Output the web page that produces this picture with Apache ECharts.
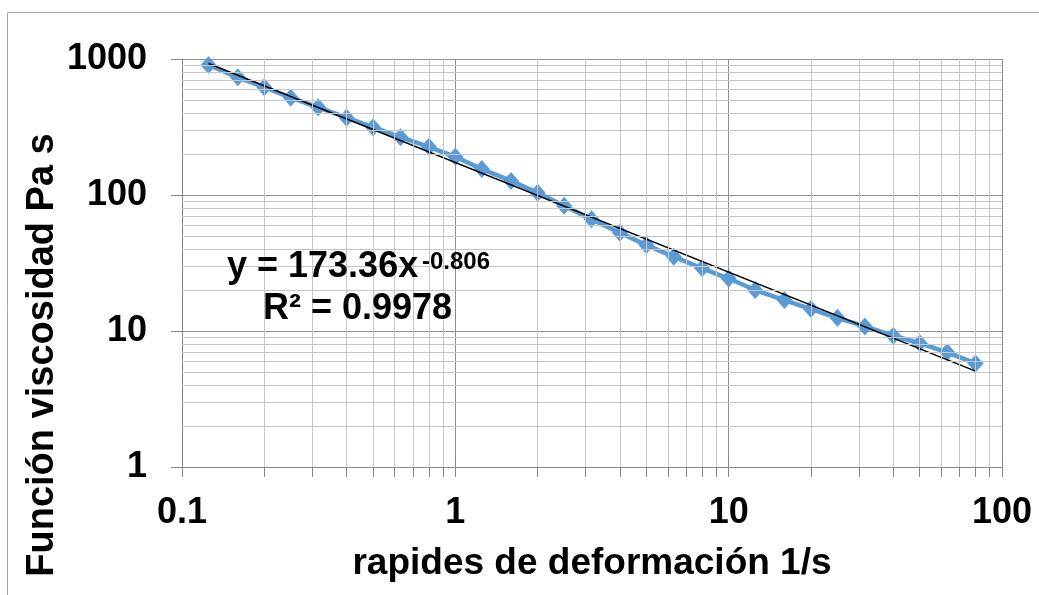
<!DOCTYPE html>
<html>
<head>
<meta charset="utf-8">
<title>Función viscosidad</title>
<script src="https://cdn.jsdelivr.net/npm/echarts@6/dist/echarts.min.js"></script>
<style>
  html, body { margin: 0; padding: 0; background: #ffffff; }
  #chart { width: 1039px; height: 595px; }
</style>
</head>
<body>
<div id="chart"></div>
<script>
// Shear rate (1/s) and measured viscosity (Pa s)
const shearRate = [0.125, 0.16, 0.2, 0.25, 0.315, 0.4, 0.5, 0.63, 0.8, 1,
                   1.25, 1.6, 2, 2.5, 3.15, 4, 5, 6.3, 8, 10,
                   12.5, 16, 20, 25, 31.5, 40, 50, 63, 80];
const viscosity = [903, 733, 620, 519, 441, 370, 315, 266, 226, 191,
                   155, 127, 104, 83.4, 66.2, 52.8, 42.8, 35.2, 28.9, 24.3,
                   20.0, 16.9, 14.5, 12.5, 10.8, 9.23, 8.13, 6.97, 5.78];

// Power-law fit y = A * x^B
const fitA = 173.36;
const fitB = -0.806;
const fitR2 = 0.9978;

// Axis decades and minor steps
const xDecades = [0.1, 1, 10, 100];
const yDecades = [1, 10, 100, 1000];
const minorSteps = [2, 3, 4, 5, 6, 7, 8, 9];

const font = '"Liberation Sans", Arial, sans-serif';

function minorValues(decades) {
  const out = [];
  for (let i = 0; i < decades.length - 1; i++) {
    minorSteps.forEach(m => out.push(+(decades[i] * m).toPrecision(6)));
  }
  return out;
}
const xMinor = minorValues(xDecades);
const yMinor = minorValues(yDecades);
const xAllTicks = xDecades.concat(xMinor).sort((a, b) => a - b);

// Trend line endpoints (straight on log-log axes)
const xFirst = shearRate[0];
const xLast = shearRate[shearRate.length - 1];
const trend = [xFirst, xLast].map(x => [x, fitA * Math.pow(x, fitB)]);

const chart = echarts.init(document.getElementById('chart'), null, { renderer: 'canvas' });

const labelStyle = { fontFamily: font, fontWeight: 'bold', fontSize: 36, color: '#000000' };

chart.setOption({
  animation: false,
  backgroundColor: '#ffffff',
  grid: { left: 182, right: 37, top: 59, bottom: 128, containLabel: false },
  xAxis: [
    {
      type: 'log', logBase: 10, min: xDecades[0], max: xDecades[xDecades.length - 1],
      position: 'bottom',
      axisLine: { show: true, lineStyle: { color: '#868686', width: 1 } },
      axisTick: { show: true, inside: false, length: 10, customValues: xAllTicks,
                  lineStyle: { color: '#868686', width: 1 } },
      axisLabel: Object.assign({ margin: 28, customValues: xDecades,
                                 formatter: v => String(v) }, labelStyle),
      splitLine: { show: true, lineStyle: { color: '#8c8c8c', width: 1 } },
      name: 'rapides de deformación 1/s',
      nameLocation: 'middle',
      nameGap: 78,
      nameTextStyle: { fontFamily: font, fontWeight: 'bold', fontSize: 37, color: '#000000' }
    },
    {
      type: 'log', logBase: 10, min: xDecades[0], max: xDecades[xDecades.length - 1],
      position: 'bottom',
      axisLine: { show: false },
      axisTick: { show: true, inside: true, length: 9, customValues: xAllTicks,
                  lineStyle: { color: '#868686', width: 1 } },
      axisLabel: { show: false },
      splitLine: { show: false }
    }
  ],
  yAxis: [
    {
      type: 'log', logBase: 10, min: yDecades[0], max: yDecades[yDecades.length - 1],
      axisLine: { show: true, lineStyle: { color: '#868686', width: 1 } },
      axisTick: { show: true, inside: false, length: 11, customValues: yDecades,
                  lineStyle: { color: '#868686', width: 1 } },
      axisLabel: Object.assign({ margin: 35, customValues: yDecades,
                                 formatter: v => String(v) }, labelStyle),
      splitLine: { show: true, lineStyle: { color: '#8c8c8c', width: 1 } }
    }
  ],
  graphic: [
    {
      type: 'rect', silent: true, z: -10,
      shape: { x: 7.5, y: 12.5, width: 1100, height: 700 },
      style: { fill: 'none', stroke: '#a6a6a6', lineWidth: 1 }
    },
    {
      type: 'text', silent: true, z: 100,
      x: 43, y: 355, rotation: Math.PI / 2,
      style: {
        text: 'Función viscosidad Pa s',
        fontFamily: font, fontWeight: 'bold', fontSize: 38, fill: '#000000',
        align: 'center', verticalAlign: 'middle'
      }
    },
    {
      type: 'text', silent: true, z: 100,
      x: 227, y: 249,
      style: {
        text: 'y = ' + fitA.toFixed(2) + 'x',
        fontFamily: font, fontWeight: 'bold', fontSize: 36, fill: '#000000',
        align: 'left', verticalAlign: 'top'
      }
    },
    {
      type: 'text', silent: true, z: 100,
      x: 422, y: 250,
      style: {
        text: fitB.toFixed(3),
        fontFamily: font, fontWeight: 'bold', fontSize: 24, fill: '#000000',
        align: 'left', verticalAlign: 'top'
      }
    },
    {
      type: 'text', silent: true, z: 100,
      x: 263, y: 291,
      style: {
        text: 'R² = ' + fitR2.toFixed(4),
        fontFamily: font, fontWeight: 'bold', fontSize: 36, fill: '#000000',
        align: 'left', verticalAlign: 'top'
      }
    }
  ],
  series: [
    {
      // minor gridlines at 2..9 of each decade
      type: 'line', data: [], z: 1, silent: true,
      markLine: {
        silent: true, symbol: ['none', 'none'], animation: false,
        label: { show: false },
        emphasis: { disabled: true },
        lineStyle: { color: '#c6c6c6', width: 1, type: 'solid' },
        data: xMinor.map(v => ({ xAxis: v })).concat(yMinor.map(v => ({ yAxis: v })))
      }
    },
    {
      name: 'viscosidad',
      type: 'line', z: 3,
      data: shearRate.map((x, i) => [x, viscosity[i]]),
      symbol: 'diamond', symbolSize: [16, 18], showSymbol: true,
      itemStyle: { color: '#5B9BD5', borderWidth: 0, opacity: 1 },
      lineStyle: { color: '#5B9BD5', width: 4.5 },
      emphasis: { disabled: true }
    },
    {
      name: 'ajuste potencial',
      type: 'line', z: 4,
      data: trend,
      symbol: 'none',
      lineStyle: { color: '#000000', width: 1.5 },
      emphasis: { disabled: true }
    }
  ]
});
</script>
</body>
</html>
